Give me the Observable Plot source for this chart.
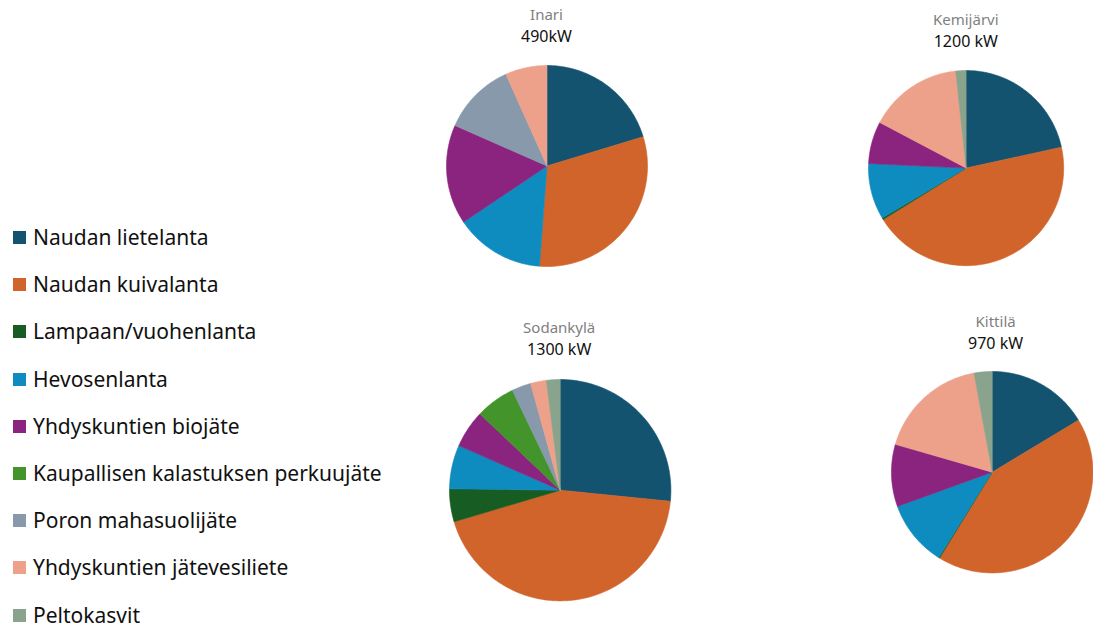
<!DOCTYPE html>
<html>
<head>
<meta charset="utf-8">
<script src="https://cdn.jsdelivr.net/npm/d3@7"></script>
<script src="https://cdn.jsdelivr.net/npm/@observablehq/plot@0.6"></script>
<style>
  html, body { margin: 0; padding: 0; background: #fff; overflow: hidden; }
  #root { position: relative; width: 1093px; height: 630px; overflow: hidden; font-family: "Noto Sans", sans-serif; }
  .pie { position: absolute; }
  .title { position: absolute; transform: translateX(-50%); white-space: nowrap; text-align: center; line-height: 1; }
  .title .name { color: #7f7f7f; font-size: 15px; }
  .title .kw { color: #111; font-size: 16px; margin-top: 6px; }
  .legend { position: absolute; left: 13px; top: 214px; }
  .legend .row { display: flex; align-items: center; height: 47.2px; font-size: 21px; color: #111; line-height: 1; }
  .legend .sw { width: 13px; height: 13px; margin-right: 7px; flex: none; }
</style>
</head>
<body>
<div id="root"></div>
<script>
// ---- data ----
const categories = [
  "Naudan lietelanta",
  "Naudan kuivalanta",
  "Lampaan/vuohenlanta",
  "Hevosenlanta",
  "Yhdyskuntien biojäte",
  "Kaupallisen kalastuksen perkuujäte",
  "Poron mahasuolijäte",
  "Yhdyskuntien jätevesiliete",
  "Peltokasvit"
];
const colors = ["#135370", "#D0642B", "#175C22", "#0E8BBF", "#8B247E", "#44942C", "#8799AA", "#EDA18A", "#8AA38C"];

const towns = ["Inari", "Kemijärvi", "Sodankylä", "Kittilä"];
const powerLabels = ["490kW", "1200 kW", "1300 kW", "970 kW"];

// shares (%) in category order
const inariValues     = [20.3, 30.9, 0,    14.4, 16.0, 0,   11.7, 6.7,  0];
const kemijarviValues = [21.6, 44.7, 0.3,  9.3,  7.0,  0,   0,    15.6, 1.7];
const sodankylaValues = [26.6, 43.8, 4.8,  6.4,  5.5,  5.8, 2.8,  2.3,  2.0];
const kittilaValues   = [16.4, 42.5, 0.15, 10.6, 10.0, 0,   0,    17.7, 2.9];
const townValues = [inariValues, kemijarviValues, sodankylaValues, kittilaValues];

// ---- layout (pixels) ----
const layout = [
  {cx: 546.5, cy: 165.5, r: 100.5, nameY: 7,   kwY: 29},
  {cx: 965.8, cy: 167.5, r: 97.6,  nameY: 12,  kwY: 35},
  {cx: 559.2, cy: 489.5, r: 110.7, nameY: 320, kwY: 343},
  {cx: 995.6, cy: 476,   r: 105,   nameY: 314, kwY: 335}
];

const root = document.getElementById("root");
const colorScale = {type: "ordinal", domain: categories, range: colors};

function wedgePoints(values) {
  const data = categories.map((c, i) => ({cat: c, value: values[i]}));
  const arcs = d3.pie().sort(null).value(d => d.value)(data);
  const pts = [];
  arcs.forEach((a, k) => {
    if (a.data.value <= 0) return;
    const key = k + "";
    pts.push({x: 0, y: 0, cat: a.data.cat, key});
    const n = Math.max(2, Math.ceil((a.endAngle - a.startAngle) / (Math.PI / 180)));
    for (let j = 0; j <= n; j++) {
      const t = a.startAngle + (a.endAngle - a.startAngle) * j / n;
      pts.push({x: Math.sin(t), y: Math.cos(t), cat: a.data.cat, key});
    }
    pts.push({x: 0, y: 0, cat: a.data.cat, key});
  });
  return pts;
}

towns.forEach((town, i) => {
  const L = layout[i];
  const m = 1;
  const size = 2 * L.r + 2 * m;
  const chart = Plot.plot({
    width: size,
    height: size,
    margin: m,
    x: {domain: [-1, 1], axis: null},
    y: {domain: [-1, 1], axis: null},
    color: colorScale,
    style: {background: "transparent", overflow: "visible"},
    marks: [
      Plot.line(wedgePoints(townValues[i]), {
        x: "x", y: "y", z: "key", fill: "cat", stroke: "cat",
        strokeWidth: 0.6, curve: "linear"
      })
    ]
  });
  const wrap = document.createElement("div");
  wrap.className = "pie";
  wrap.style.left = (L.cx - L.r - m) + "px";
  wrap.style.top = (L.cy - L.r - m) + "px";
  wrap.appendChild(chart);
  root.appendChild(wrap);

  const t = document.createElement("div");
  t.className = "title";
  t.style.left = L.cx + "px";
  t.style.top = L.nameY + "px";
  t.innerHTML = `<div class="name"></div><div class="kw"></div>`;
  t.querySelector(".name").textContent = town;
  t.querySelector(".kw").textContent = powerLabels[i];
  root.appendChild(t);
});

// legend
const legend = document.createElement("div");
legend.className = "legend";
categories.forEach((c, i) => {
  const row = document.createElement("div");
  row.className = "row";
  const sw = document.createElement("span");
  sw.className = "sw";
  sw.style.background = colors[i];
  const lab = document.createElement("span");
  lab.textContent = c;
  row.appendChild(sw);
  row.appendChild(lab);
  legend.appendChild(row);
});
root.appendChild(legend);
</script>
</body>
</html>
